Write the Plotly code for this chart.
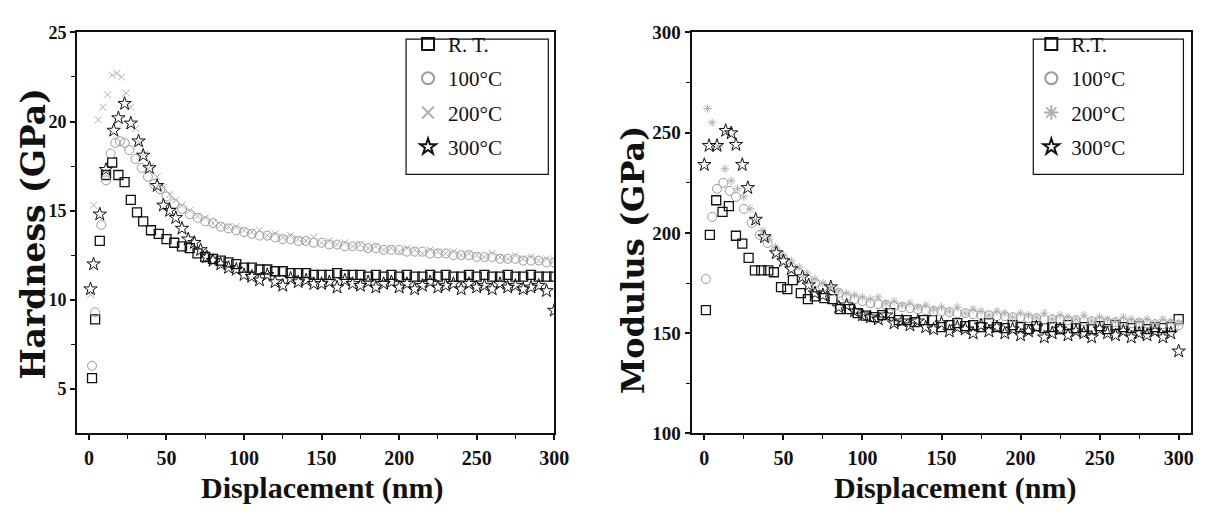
import plotly.graph_objects as go

# ---------------- data ----------------
DEPTH_TAIL = [105, 110, 115, 120, 125, 130, 135, 140, 145, 150,
              155, 160, 165, 170, 175, 180, 185, 190, 195, 200,
              205, 210, 215, 220, 225, 230, 235, 240, 245, 250,
              255, 260, 265, 270, 275, 280, 285, 290, 295, 300]

# Hardness (GPa)
H_RT_X = [2, 4, 7, 11, 15, 19, 23, 27, 31, 35, 40, 45, 50, 55, 60, 65, 70, 75, 80, 85, 90, 95, 100] + DEPTH_TAIL
H_RT_Y = [5.6, 8.9, 13.3, 17.0, 17.7, 17.0, 16.6, 15.6, 14.9, 14.4, 13.9, 13.7, 13.4, 13.2, 13.0, 12.9,
          12.6, 12.4, 12.3, 12.2, 12.1, 12.0, 11.8,
          11.8, 11.7, 11.7, 11.6, 11.6, 11.5, 11.5, 11.5, 11.4, 11.4,
          11.4, 11.5, 11.4, 11.4, 11.4, 11.3, 11.4, 11.3, 11.4, 11.3,
          11.4, 11.3, 11.3, 11.4, 11.3, 11.4, 11.3, 11.3, 11.4, 11.3,
          11.4, 11.3, 11.3, 11.4, 11.3, 11.3, 11.4, 11.3, 11.3, 11.3]

H_100_X = [2, 4, 8, 11, 14, 17, 20, 23, 26, 30, 34, 38, 42, 46, 50, 55, 60, 65, 70, 75, 80, 85, 90, 95, 100] + DEPTH_TAIL
H_100_Y = [6.3, 9.3, 14.2, 16.7, 18.2, 18.8, 18.9, 18.8, 18.4, 17.9, 17.4, 16.9, 16.5, 16.2, 15.8, 15.4,
           15.1, 14.8, 14.6, 14.4, 14.3, 14.1, 14.0, 13.9, 13.8,
           13.7, 13.6, 13.6, 13.5, 13.4, 13.4, 13.3, 13.3, 13.2, 13.2,
           13.1, 13.1, 13.0, 13.0, 13.0, 12.9, 12.9, 12.8, 12.8, 12.8,
           12.7, 12.7, 12.7, 12.6, 12.6, 12.6, 12.5, 12.5, 12.5, 12.4,
           12.4, 12.4, 12.3, 12.3, 12.3, 12.2, 12.2, 12.2, 12.1, 12.1]

H_200_X = [1, 3, 6, 9, 12, 15, 18, 21, 24, 27, 30, 33, 36, 40, 44, 48, 52, 56, 60, 65, 70, 75, 80, 85, 90, 95, 100] + DEPTH_TAIL
H_200_Y = [10.3, 15.3, 20.1, 20.8, 21.5, 22.6, 22.7, 22.5, 21.6, 20.8, 19.6, 18.8, 18.2, 17.5, 16.9,
           16.3, 15.9, 15.6, 15.3, 15.0, 14.7, 14.6, 14.3, 14.2, 14.1, 14.1, 13.9,
           13.8, 13.9, 13.6, 13.7, 13.5, 13.6, 13.4, 13.3, 13.5, 13.2,
           13.3, 13.1, 13.2, 13.0, 13.1, 12.9, 13.0, 12.8, 12.9, 12.7,
           12.9, 12.8, 12.6, 12.8, 12.7, 12.6, 12.7, 12.5, 12.6, 12.5,
           12.4, 12.6, 12.4, 12.3, 12.5, 12.3, 12.4, 12.2, 12.3, 12.2]

H_300_X = [1, 3, 7, 11, 16, 19, 23, 27, 32, 35, 39, 44, 48, 52, 56, 60, 64, 68, 72, 76, 80, 85, 90, 95, 100] + DEPTH_TAIL
H_300_Y = [10.6, 12.0, 14.8, 17.3, 19.5, 20.2, 21.0, 19.9, 18.9, 18.1, 17.4, 16.4, 15.3, 15.0, 14.6,
           14.0, 13.4, 13.2, 12.8, 12.4, 12.2, 12.0, 11.8, 11.7, 11.4,
           11.3, 11.1, 11.4, 11.0, 10.8, 11.2, 11.0, 11.1, 10.9, 10.9,
           11.0, 10.7, 11.1, 10.9, 10.8, 11.0, 10.7, 10.9, 11.0, 10.7,
           10.9, 10.6, 10.8, 11.0, 10.7, 10.8, 10.9, 10.6, 10.9, 10.7,
           10.8, 10.6, 10.9, 10.7, 10.8, 10.6, 10.7, 10.8, 10.5, 9.4]

# Modulus (GPa)
M_RT_X = [1, 3.5, 7.5, 11.5, 15.5, 20, 24, 28, 32, 36, 40.5, 44, 48.5, 52.5, 56, 61, 65.5, 70, 76, 81, 86,
          92, 97, 102, 107.5, 112.5, 117.5, 123, 128, 133, 139, 144, 150] + DEPTH_TAIL[10:]
M_RT_Y = [161.5, 199, 216.3, 210.5, 213.4, 198.6, 194.7, 187.6, 181.3, 181.3, 181.3, 180.4, 173, 172, 176.5,
          170, 167, 168.4, 167.5, 167, 162, 162, 160, 158.8, 158, 159, 160, 156.5, 156.5, 155.5, 156.5,
          156.5, 153,
          154, 155, 153.5, 154, 153, 155, 153, 152.5, 154, 153,
          152, 153.5, 152.5, 153, 152, 154, 152.5, 153, 152, 153.5,
          152, 154, 153, 152.5, 153.5, 152, 153, 152.5, 153, 157]

M_100_X = [1, 5, 8, 12, 16, 20, 25, 30, 35, 40, 45, 50, 55, 60, 65, 70, 75, 80, 85, 90, 95, 100] + DEPTH_TAIL
M_100_Y = [177, 208, 222, 225, 221, 218, 212, 205, 199, 195, 191, 187, 183, 180, 177, 175, 173, 171, 170,
           168, 167, 166,
           165, 164.5, 164, 163.5, 163, 162.5, 162, 161.5, 161, 161,
           160.5, 160, 160, 159.5, 159, 159, 158.5, 158.5, 158, 158,
           157.5, 157.5, 157, 157, 157, 156.5, 156.5, 156, 156, 156,
           155.5, 155.5, 155.5, 155, 155, 155, 154.5, 154.5, 154.5, 154]

M_200_X = [2, 5, 9, 13, 17, 21, 25, 29, 33, 37, 41, 45, 50, 55, 60, 65, 70, 75, 80, 85, 90, 95, 100] + DEPTH_TAIL
M_200_Y = [262, 255, 243, 232, 226, 222, 218, 212, 206, 201, 197, 193, 189, 186, 183, 180, 177, 175, 173,
           171, 170, 169, 168,
           167, 168, 165, 166, 164, 165, 163, 164, 162, 163,
           161, 163, 160, 162, 161, 159, 161, 160, 158, 160,
           159, 158, 160, 157, 159, 158, 157, 159, 156, 158,
           157, 156, 158, 157, 156, 157, 155, 157, 156, 155]

M_300_X = [0, 3, 8, 13.5, 17, 20, 24, 27.5, 32.5, 38, 45.5, 50, 55, 62, 66, 70, 75, 80, 85, 90, 95, 100] + DEPTH_TAIL
M_300_Y = [234, 243.5, 243.5, 251, 249.8, 244, 234, 222.5, 206.7, 198, 190, 186, 182, 178, 174, 170, 169,
           173, 163, 164, 161, 159,
           158, 157, 159, 155, 156, 154, 156, 153, 152, 155,
           151, 153, 152, 150, 154, 151, 153, 150, 152, 149,
           151, 153, 148, 150, 152, 149, 151, 150, 148, 152,
           150, 149, 151, 148, 150, 149, 151, 148, 150, 141]

LEFT_NAMES = ["R. T.", "100°C", "200°C", "300°C"]
RIGHT_NAMES = ["R.T.", "100°C", "200°C", "300°C"]

# ---------------- figure ----------------
W, H = 1225, 519
SERIF = "Liberation Serif"
BLACK = "#111111"
GRAY1 = "#9a9a9a"
GRAY2 = "#b0b0b0"

fig = go.Figure()

styles = [
    dict(symbol="square-open", size=9, color=BLACK, lw=1.3),
    dict(symbol="circle-open", size=9, color=GRAY1, lw=1.0),
    dict(symbol="x-thin-open", size=7, color=GRAY2, lw=1.0),
    dict(symbol="star-open", size=10, color=BLACK, lw=1.0),
]
styles_r = [styles[0], styles[1], dict(symbol="asterisk-open", size=7, color=GRAY2, lw=1.0), styles[3]]

left_sets = [(H_RT_X, H_RT_Y), (H_100_X, H_100_Y), (H_200_X, H_200_Y), (H_300_X, H_300_Y)]
right_sets = [(M_RT_X, M_RT_Y), (M_100_X, M_100_Y), (M_200_X, M_200_Y), (M_300_X, M_300_Y)]

for i, ((x, y), st) in enumerate(zip(left_sets, styles)):
    fig.add_trace(go.Scatter(
        x=x, y=y, mode="markers", name=LEFT_NAMES[i], xaxis="x", yaxis="y",
        legend="legend", legendgroup=f"L{i}",
        marker=dict(symbol=st["symbol"], size=st["size"], color=st["color"],
                    line=dict(color=st["color"], width=st["lw"]))))

for i, ((x, y), st) in enumerate(zip(right_sets, styles_r)):
    fig.add_trace(go.Scatter(
        x=x, y=y, mode="markers", name=RIGHT_NAMES[i], xaxis="x2", yaxis="y2",
        legend="legend2", legendgroup=f"R{i}",
        marker=dict(symbol=st["symbol"], size=st["size"], color=st["color"],
                    line=dict(color=st["color"], width=st["lw"]))))

def px_x(p):
    return p / W

def px_y(p):
    return 1 - p / H

ydom = [px_y(433), px_y(15)]

axis_common = dict(showline=True, linecolor=BLACK, linewidth=2, mirror=True,
                   ticks="outside", ticklen=5, tickwidth=1.5, tickcolor=BLACK,
                   showgrid=False, zeroline=False)

def xaxis_cfg(dom, rng, anchor):
    return dict(axis_common, domain=dom, range=rng, anchor=anchor,
                tickmode="array", tickvals=[0, 50, 100, 150, 200, 250, 300],
                tickfont=dict(family=SERIF, size=20, color=BLACK, weight="bold"),
                ticklabelstandoff=1,
                minor=dict(tickvals=[25, 75, 125, 175, 225, 275], ticks="outside",
                           ticklen=4, tickwidth=1.2, tickcolor=BLACK))

fig.update_layout(
    width=W, height=H,
    margin=dict(l=0, r=0, t=0, b=0),
    paper_bgcolor="white", plot_bgcolor="white",
    xaxis=xaxis_cfg([px_x(70), px_x(553)], [-7.6, 300], "y"),
    xaxis2=xaxis_cfg([px_x(692), px_x(1198)], [-8.1, 308], "y2"),
    yaxis=dict(axis_common, domain=ydom, range=[2.5, 25], anchor="x",
               tickmode="array", tickvals=[5, 10, 15, 20, 25],
               tickfont=dict(family=SERIF, size=18, color=BLACK, weight="bold"),
               ticklabelstandoff=0,
               minor=dict(tickvals=[7.5, 12.5, 17.5, 22.5], ticks="outside",
                          ticklen=4, tickwidth=1.2, tickcolor=BLACK)),
    yaxis2=dict(axis_common, domain=ydom, range=[100, 300], anchor="x2",
                tickmode="array", tickvals=[100, 150, 200, 250, 300],
                tickfont=dict(family=SERIF, size=19, color=BLACK, weight="bold"),
                ticklabelstandoff=0,
                minor=dict(tickvals=[125, 175, 225, 275], ticks="outside",
                           ticklen=4, tickwidth=1.2, tickcolor=BLACK)),
    legend=dict(x=px_x(405), y=px_y(6), xanchor="left", yanchor="top",
                bgcolor="rgba(0,0,0,0)", borderwidth=0, tracegroupgap=4,
                font=dict(family=SERIF, size=21, color=BLACK), itemsizing="constant"),
    legend2=dict(x=px_x(1036), y=px_y(6), xanchor="left", yanchor="top",
                 bgcolor="rgba(0,0,0,0)", borderwidth=0, tracegroupgap=4,
                 font=dict(family=SERIF, size=21, color=BLACK), itemsizing="constant"),
    showlegend=True,
)

# legend frames
fig.add_shape(type="rect", xref="paper", yref="paper",
              x0=px_x(403), x1=px_x(547), y0=px_y(163), y1=px_y(22),
              line=dict(color=BLACK, width=1.2), layer="below")
fig.add_shape(type="rect", xref="paper", yref="paper",
              x0=px_x(1038), x1=px_x(1190), y0=px_y(163), y1=px_y(22),
              line=dict(color=BLACK, width=1.2), layer="below")

# axis titles
title_common = dict(xref="paper", yref="paper", showarrow=False,
                    xanchor="center", yanchor="middle")
fig.add_annotation(text="Hardness (GPa)", x=px_x(26), y=px_y(225), textangle=-90,
                   font=dict(family="DejaVu Serif", size=33, color=BLACK, weight="bold"),
                   **title_common)
fig.add_annotation(text="Modulus (GPa)", x=px_x(633), y=px_y(252), textangle=-90,
                   font=dict(family="DejaVu Serif", size=32, color=BLACK, weight="bold"),
                   **title_common)
fig.add_annotation(text="Displacement (nm)", x=px_x(318), y=px_y(490),
                   font=dict(family=SERIF, size=30, color=BLACK, weight="bold"),
                   **title_common)
fig.add_annotation(text="Displacement (nm)", x=px_x(959), y=px_y(490),
                   font=dict(family=SERIF, size=30, color=BLACK, weight="bold"),
                   **title_common)

fig.write_html("out.html")
